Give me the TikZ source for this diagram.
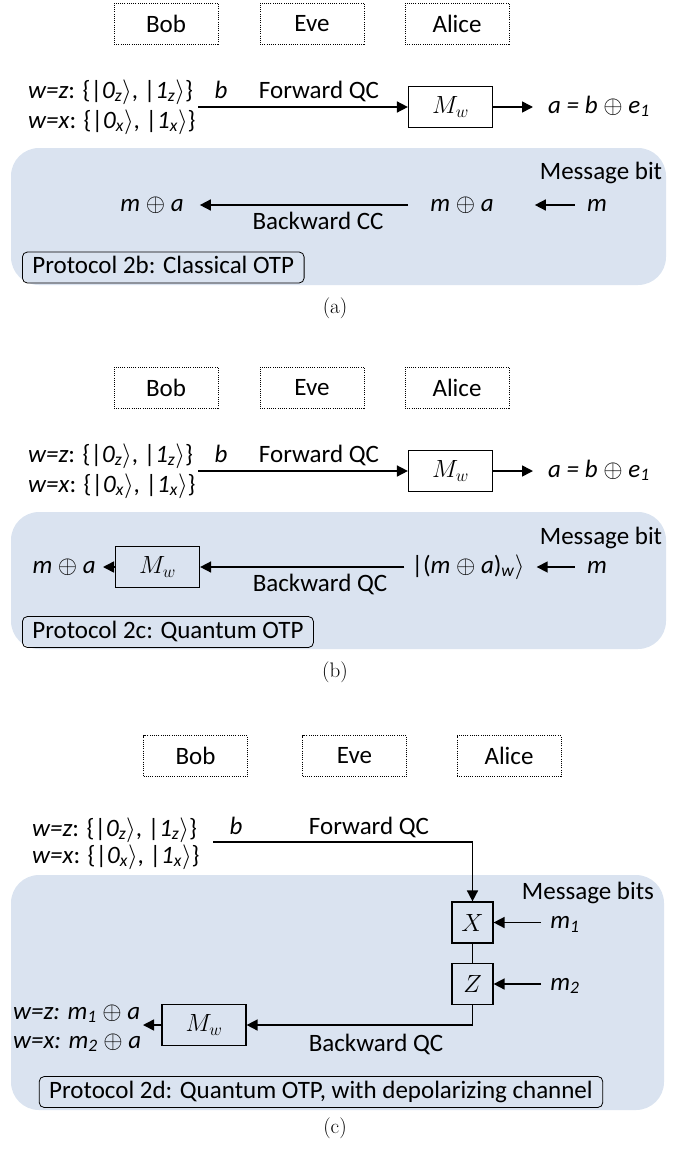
\documentclass[tikz,border=0pt]{standalone}
\usepackage{amsmath}
\usepackage{fontspec}
\setmainfont{Carlito}
\newfontfamily\lmfont{Latin Modern Roman}
\usetikzlibrary{arrows.meta}
\definecolor{panelblue}{RGB}{218,227,240}
\newcommand{\kt}[2]{|\textit{#1}\textsubscript{\textit{#2}}$\rangle$}
\newcommand{\oplusA}{$\oplus$}
\tikzset{
  party/.style={draw, line width=1pt, dash pattern=on 1pt off 1.2pt, minimum width=104pt, minimum height=41pt, inner sep=0pt},
  gate/.style={draw, line width=1.2pt, minimum width=84pt, minimum height=41pt, inner sep=0pt},
  sgate/.style={draw, line width=1.2pt, minimum width=41pt, minimum height=41pt, inner sep=0pt},
  arr/.style={line width=1.6pt, -{Triangle[length=11pt,width=11pt]}},
  wire/.style={line width=1.2pt},
  txt/.style={inner sep=0pt, text height=17pt, text depth=5pt},
  proto/.style={draw, rounded corners=5pt, line width=0.8pt, inner xsep=10pt, inner ysep=4.5pt, text height=17pt, text depth=5pt},
  panel/.style={fill=panelblue, rounded corners=28pt},
  captxt/.style={inner sep=0pt, font=\lmfont\fontsize{21}{25}\selectfont}
}
\begin{document}
\begin{tikzpicture}[x=1pt, y=-1pt, font=\fontsize{25}{30}\selectfont]
\useasboundingbox (0,0) rectangle (692,1149);
% ---------- panels ----------
\fill[panel] (11,148) rectangle (666,285);
\fill[panel] (11,512) rectangle (666,649);
\fill[panel] (11,875) rectangle (664,1110);

% ================= (a) =================
\node[party] (bobA) at (166,23.5) {Bob};
\node[party] (eveA) at (312,23.5) {Eve};
\node[party] (aliceA) at (457,23.5) {Alice};
\node[txt, anchor=west] (wzA) at (28,92) {\textit{w=z}: \{\kt{0}{z}, \kt{1}{z}\}};
\node[txt, anchor=west] (wxA) at (28,122) {\textit{w=x}: \{\kt{0}{x}, \kt{1}{x}\}};
\node[txt] (bA) at (221,92) {\textit{b}};
\node[txt] (fqA) at (319,92) {Forward QC};
\node[gate] (mwA) at (450.5,107) {$M_w$};
\coordinate (sA) at (198,107);
\draw[arr] (sA) -- (mwA.west);
\node[txt, anchor=west] (aA) at (548,107) {\textit{a = b} \oplusA{} \textit{e}\textsubscript{\textit{1}}};
\draw[arr, shorten >=15pt] (mwA.east) -- (mwA.east -| aA.west);
\node[txt] (msgA) at (601,173) {Message bit};
\node[txt] (ma1A) at (152,205) {\textit{m} \oplusA{} \textit{a}};
\node[txt] (ma2A) at (462,205) {\textit{m} \oplusA{} \textit{a}};
\node[txt] (mA) at (597,205) {\textit{m}};
\draw[arr, shorten <=22pt, shorten >=16pt] (ma2A.west) -- (ma1A.east);
\draw[arr, shorten <=12pt, shorten >=41pt] (mA.west) -- (ma2A.east);
\node[txt] (bcA) at (318,223) {Backward CC};
\node[proto, anchor=west] (pA) at (22,267.5) {Protocol 2b: Classical OTP};
\node[captxt] (capA) at (335,308) {(a)};

% ================= (b) =================
\node[party] (bobB) at (166,387.5) {Bob};
\node[party] (eveB) at (312,387.5) {Eve};
\node[party] (aliceB) at (457,387.5) {Alice};
\node[txt, anchor=west] (wzB) at (28,456) {\textit{w=z}: \{\kt{0}{z}, \kt{1}{z}\}};
\node[txt, anchor=west] (wxB) at (28,486) {\textit{w=x}: \{\kt{0}{x}, \kt{1}{x}\}};
\node[txt] (bB) at (221,456) {\textit{b}};
\node[txt] (fqB) at (319,456) {Forward QC};
\node[gate] (mwB) at (450.5,471) {$M_w$};
\coordinate (sB) at (198,471);
\draw[arr] (sB) -- (mwB.west);
\node[txt, anchor=west] (aB) at (548,471) {\textit{a = b} \oplusA{} \textit{e}\textsubscript{\textit{1}}};
\draw[arr, shorten >=15pt] (mwB.east) -- (mwB.east -| aB.west);
\node[txt] (msgB) at (601,538) {Message bit};
\node[gate] (mw2B) at (157.5,567) {$M_w$};
\node[txt, anchor=east] (outB) at (96,567) {\textit{m} \oplusA{} \textit{a}};
\draw[arr, shorten >=7pt] (mw2B.west) -- (outB.east);
\node[txt] (ketB) at (468,567) {|(\textit{m} \oplusA{} \textit{a})\textsubscript{\textit{w}}$\rangle$};
\draw[arr, shorten <=7pt] (ketB.west) -- (mw2B.east);
\node[txt] (mB) at (597,567) {\textit{m}};
\draw[arr, shorten <=12pt, shorten >=12pt] (mB.west) -- (ketB.east);
\node[txt] (bqB) at (320,585) {Backward QC};
\node[proto, anchor=west] (pB) at (22,632) {Protocol 2c: Quantum OTP};
\node[captxt] (capB) at (335,672) {(b)};

% ================= (c) =================
\node[party] (bobC) at (195.5,756) {Bob};
\node[party] (eveC) at (354.5,756) {Eve};
\node[party] (aliceC) at (509,756) {Alice};
\node[txt, anchor=west] (wzC) at (32,830) {\textit{w=z}: \{\kt{0}{z}, \kt{1}{z}\}};
\node[txt, anchor=west] (wxC) at (32,857) {\textit{w=x}: \{\kt{0}{x}, \kt{1}{x}\}};
\node[txt] (bC) at (236,828) {\textit{b}};
\node[txt] (fqC) at (369,828) {Forward QC};
\node[sgate] (xC) at (472.5,922.5) {$X$};
\node[sgate] (zC) at (472.5,984) {$Z$};
\coordinate (sC) at (213,842);
\draw[arr] (sC) -| (xC.north);
\draw[wire] (xC.south) -- (zC.north);
\node[txt] (msgC) at (588,893) {Message bits};
\node[txt] (m1C) at (565,922.5) {\textit{m}\textsubscript{\textit{1}}};
\node[txt] (m2C) at (565,984) {\textit{m}\textsubscript{\textit{2}}};
\draw[arr, shorten <=9pt] (m1C.west) -- (xC.east);
\draw[arr, shorten <=9pt] (m2C.west) -- (zC.east);
\node[gate] (mwC) at (204,1025) {$M_w$};
\draw[arr] (zC.south) |- (mwC.east);
\node[txt, anchor=west] (o1C) at (13,1013) {\textit{w=z: m}\textsubscript{\textit{1}} \oplusA{} \textit{a}};
\node[txt, anchor=west] (o2C) at (13,1042) {\textit{w=x: m}\textsubscript{\textit{2}} \oplusA{} \textit{a}};
\coordinate (eC) at (143,1025);
\draw[arr] (mwC.west) -- (eC);
\node[txt] (bqC) at (376,1045) {Backward QC};
\node[proto] (pC) at (321,1092) {Protocol 2d: Quantum OTP, with depolarizing channel};
\node[captxt] (capC) at (335,1128) {(c)};
\end{tikzpicture}
\end{document}
